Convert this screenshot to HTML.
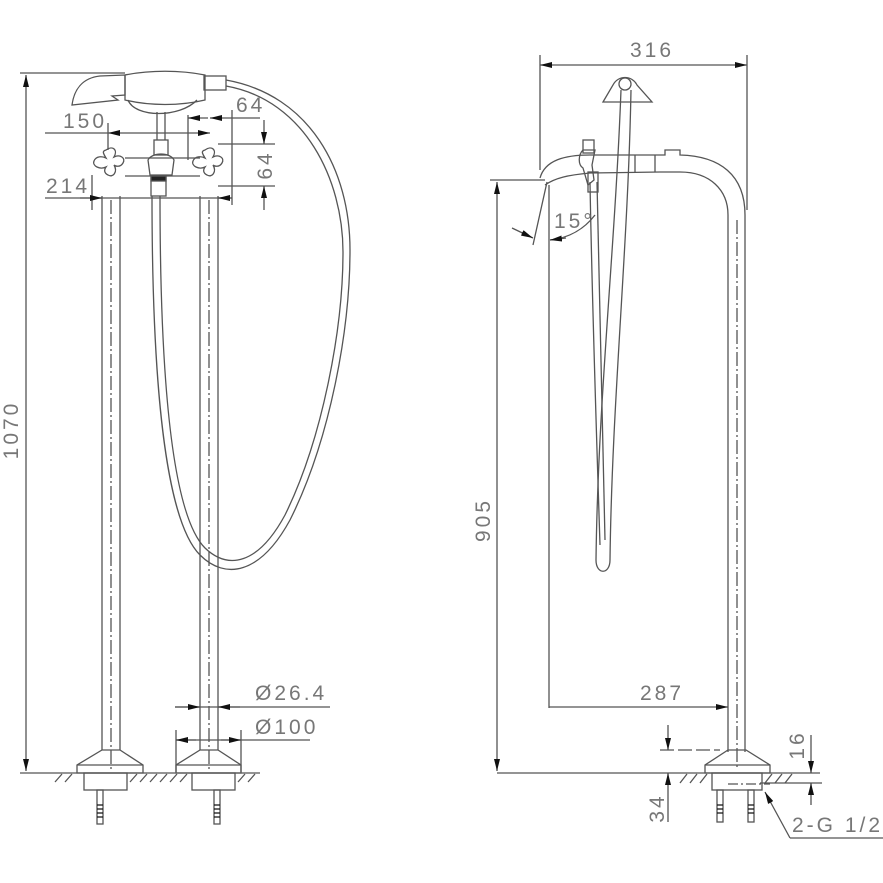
<!DOCTYPE html>
<html><head><style>body{margin:0;background:#fff}svg{display:block}text{font-family:"Liberation Sans",sans-serif;fill:#777;stroke:none;font-size:21px;letter-spacing:3px}</style></head>
<body>
<svg width="883" height="883" viewBox="0 0 883 883" xmlns="http://www.w3.org/2000/svg" fill="none" stroke="#555" stroke-width="1.3">
<defs><marker id="a" viewBox="0 0 12 6" refX="12" refY="3" markerWidth="12" markerHeight="6" orient="auto-start-reverse" markerUnits="userSpaceOnUse"><path d="M0,0L12,3L0,6z" fill="#111" stroke="none"/></marker></defs>

<!-- LEFT VIEW -->
<line x1="20" y1="73" x2="125" y2="73"/>
<line x1="20" y1="773" x2="260" y2="773"/>
<line x1="26" y1="75" x2="26" y2="771" marker-start="url(#a)" marker-end="url(#a)"/>
<text transform="translate(18,430) rotate(-90)" text-anchor="middle">1070</text>
<path d="M72,105 C74,90 82,78 100,76 L125,75 L125,95 L112,96 L118,100 L72,105 Z"/>
<path d="M125,75 C150,70 180,70 205,75 L205,100 C180,106 150,106 125,100 Z"/>
<path d="M128,100 C135,118 180,118 197,100"/>
<rect x="204" y="76" width="22" height="14"/>
<line x1="157" y1="112" x2="157" y2="140"/><line x1="165" y1="112" x2="165" y2="140"/>
<rect x="154" y="140" width="14" height="15"/>
<path d="M148,160 C152,152 170,152 174,160 L172,175 L150,175 Z"/>
<rect x="151" y="176" width="15" height="20"/>
<rect x="151" y="176" width="15" height="5" fill="#222"/>
<line x1="125" y1="158" x2="200" y2="158"/><line x1="125" y1="176" x2="200" y2="176"/>
<g id="cr"><path d="M106,150 C113,145 118,150 114,157 C120,154 126,158 123,163 C120,168 115,166 114,165 C118,172 113,178 108,175 C104,173 104,170 106,167 C100,170 92,166 94,161 C96,156 102,156 106,158 C103,153 102,151 106,150 Z"/></g>
<use href="#cr" x="99" y="0"/>
<line x1="102" y1="196" x2="102" y2="750"/><line x1="120" y1="196" x2="120" y2="750"/>
<line x1="111" y1="200" x2="111" y2="770" stroke-dasharray="14,3,2,3"/>
<line x1="200" y1="196" x2="200" y2="750"/><line x1="218" y1="196" x2="218" y2="750"/>
<line x1="209" y1="200" x2="209" y2="770" stroke-dasharray="14,3,2,3"/>
<path d="M152,196 C152,380 165,520 200,555 C225,580 260,575 290,520 C330,440 350,330 350,250 C350,170 310,95 226,80"/>
<path d="M160,196 C160,380 172,515 205,548 C228,570 258,565 285,515 C322,440 343,330 343,252 C343,180 305,100 226,86"/>
<line x1="45" y1="133" x2="108" y2="133"/>
<line x1="108" y1="133" x2="210" y2="133" marker-start="url(#a)" marker-end="url(#a)"/>
<line x1="108" y1="123" x2="108" y2="150"/>
<text x="63" y="128">150</text>
<line x1="188" y1="115" x2="188" y2="160"/>
<line x1="232" y1="110" x2="232" y2="205"/>
<line x1="188" y1="118" x2="208" y2="118" marker-start="url(#a)"/>
<line x1="210" y1="118" x2="260" y2="118" marker-start="url(#a)"/>
<text x="236" y="112">64</text>
<line x1="218" y1="144" x2="275" y2="144"/><line x1="218" y1="186" x2="275" y2="186"/>
<line x1="264" y1="120" x2="264" y2="144" marker-end="url(#a)"/>
<line x1="264" y1="186" x2="264" y2="210" marker-start="url(#a)"/>
<text transform="translate(272,165) rotate(-90)" text-anchor="middle">64</text>
<line x1="45" y1="198" x2="232" y2="198"/>
<line x1="92" y1="175" x2="92" y2="210"/>
<line x1="80" y1="198" x2="102" y2="198" marker-end="url(#a)"/>
<line x1="232" y1="198" x2="218" y2="198" marker-end="url(#a)"/>
<text x="46" y="193">214</text>
<line x1="175" y1="707" x2="330" y2="707"/>
<line x1="175" y1="707" x2="200" y2="707" marker-end="url(#a)"/>
<line x1="240" y1="707" x2="218" y2="707" marker-end="url(#a)"/>
<text x="255" y="700">Ø26.4</text>
<line x1="176" y1="740" x2="310" y2="740"/>
<line x1="176" y1="730" x2="176" y2="772"/><line x1="241" y1="730" x2="241" y2="772"/>
<line x1="176" y1="740" x2="196" y2="740" marker-start="url(#a)"/>
<line x1="221" y1="740" x2="241" y2="740" marker-end="url(#a)"/>
<text x="255" y="734">Ø100</text>
<path d="M102,750 L120,750 L143,765 L143,773 L77,773 L77,765 Z M77,765 L143,765"/>
<path d="M200,750 L218,750 L241,765 L241,773 L176,773 L176,765 Z M176,765 L241,765"/>
<rect x="84" y="773" width="43" height="17"/><rect x="192" y="773" width="43" height="17"/>
<path d="M55,782 L62,774 M65,782 L72,774 M130,782 L137,774 M140,782 L147,774 M150,782 L157,774 M160,782 L167,774 M170,782 L177,774 M180,782 L187,774 M238,782 L245,774 M248,782 L255,774"/>
<rect x="97" y="790" width="6" height="34"/><rect x="214" y="790" width="6" height="34"/>
<path d="M97,805 h6 M97,809 h6 M97,813 h6 M97,817 h6 M214,805 h6 M214,809 h6 M214,813 h6 M214,817 h6" stroke="#111"/>

<!-- RIGHT VIEW -->
<line x1="540" y1="65" x2="747" y2="65" marker-start="url(#a)" marker-end="url(#a)"/>
<line x1="540" y1="55" x2="540" y2="170"/><line x1="747" y1="55" x2="747" y2="210"/>
<text x="630" y="57">316</text>
<path d="M603,102 L613,85 C618,75 632,75 637,85 L652,102 Z"/>
<circle cx="625" cy="84" r="6"/>
<path d="M621,90 C615,250 598,400 596,560 C596,575 610,575 610,560 C612,400 628,250 631,90"/>
<path d="M590,182 C592,300 596,420 600,545"/>
<path d="M597,182 C599,300 602,420 605,540"/>
<path d="M540,178 C545,160 565,155 590,155 L665,155 L665,150 L680,150 L680,155 C720,156 745,175 745,215 L745,752"/>
<path d="M545,185 C555,178 568,175 590,173 L660,172 L680,172 C710,172 728,190 728,215 L728,752"/>
<line x1="737" y1="220" x2="737" y2="770" stroke-dasharray="14,3,2,3"/>
<rect x="583" y="140" width="11" height="13"/>
<path d="M583,150 C578,155 578,165 583,168 L588,185 L594,180 L592,165 L595,150 Z"/>
<rect x="588" y="172" width="10" height="20"/>
<line x1="635" y1="155" x2="635" y2="172"/><line x1="655" y1="155" x2="655" y2="172"/>
<line x1="490" y1="180" x2="545" y2="180"/>
<line x1="497" y1="182" x2="497" y2="771" marker-start="url(#a)" marker-end="url(#a)"/>
<text transform="translate(490,520) rotate(-90)" text-anchor="middle">905</text>
<line x1="497" y1="773" x2="820" y2="773"/>
<line x1="549" y1="185" x2="549" y2="708"/>
<line x1="547" y1="182" x2="533" y2="245"/>
<line x1="512" y1="228" x2="533" y2="238" marker-end="url(#a)"/>
<path d="M550,240 C570,238 585,228 595,215" />
<line x1="566" y1="238" x2="550" y2="240" marker-end="url(#a)"/>
<text x="554" y="228">15°</text>
<line x1="549" y1="707" x2="728" y2="707" marker-end="url(#a)"/>
<text x="640" y="700">287</text>
<path d="M728,750 L746,750 L770,765 L770,773 L705,773 L705,765 Z M705,765 L770,765"/>
<rect x="712" y="773" width="50" height="17"/>
<path d="M680,783 L687,774 M690,783 L697,774 M700,783 L707,774 M765,783 L772,774 M775,783 L782,774 M785,783 L792,774"/>
<line x1="728" y1="784" x2="770" y2="784" stroke-dasharray="10,3,2,3"/>
<rect x="717" y="790" width="6" height="32"/><rect x="748" y="790" width="6" height="32"/>
<path d="M717,805 h6 M717,809 h6 M717,813 h6 M748,805 h6 M748,809 h6 M748,813 h6" stroke="#111"/>
<line x1="660" y1="750" x2="720" y2="750" stroke-dasharray="14,4"/>
<line x1="668" y1="725" x2="668" y2="750" marker-end="url(#a)"/>
<line x1="668" y1="795" x2="668" y2="773" marker-end="url(#a)"/>
<line x1="668" y1="795" x2="668" y2="822"/>
<text transform="translate(664,808) rotate(-90)" text-anchor="middle">34</text>
<line x1="760" y1="783" x2="822" y2="783"/>
<line x1="811" y1="735" x2="811" y2="773" marker-end="url(#a)"/>
<line x1="811" y1="805" x2="811" y2="783" marker-end="url(#a)"/>
<text transform="translate(804,745) rotate(-90)" text-anchor="middle">16</text>
<line x1="790" y1="838" x2="765" y2="792" marker-end="url(#a)"/>
<line x1="790" y1="838" x2="883" y2="838"/>
<text x="792" y="832">2-G 1/2</text>
</svg>
</body></html>
